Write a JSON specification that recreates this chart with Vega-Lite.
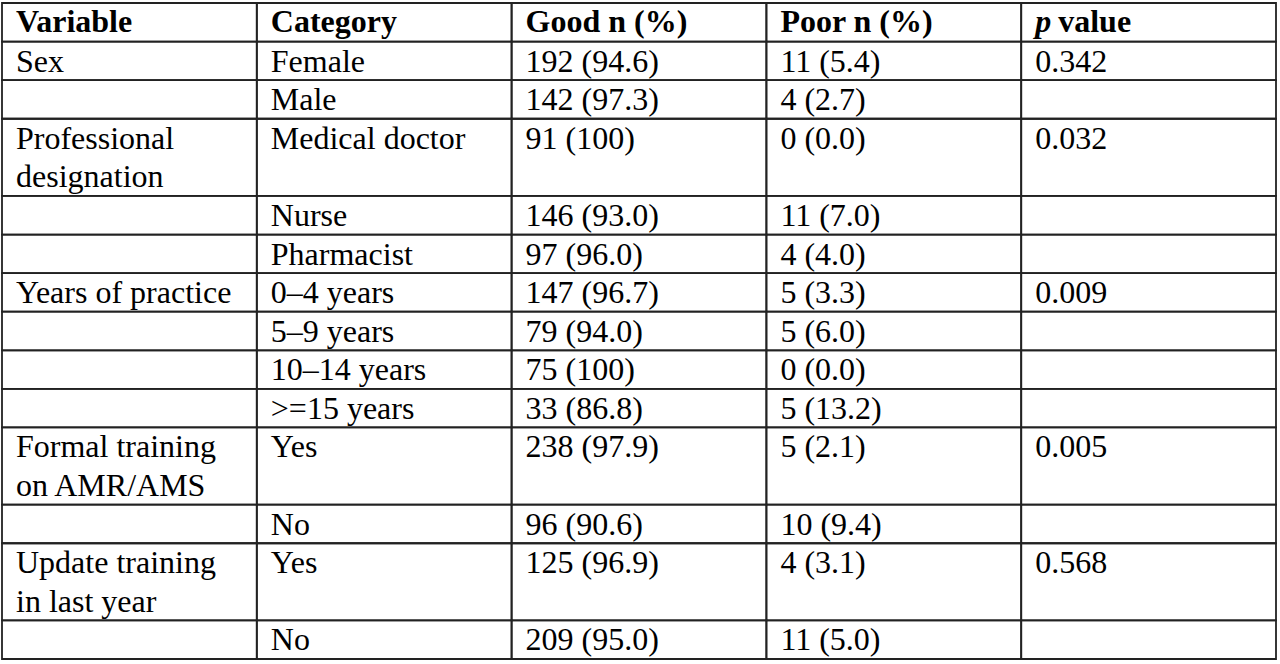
{
  "$schema": "https://vega.github.io/schema/vega-lite/v6.json",
  "width": 1274,
  "height": 656,
  "autosize": "none",
  "padding": {"left": 2, "top": 3, "right": 4, "bottom": 5},
  "background": "white",
  "config": {
    "view": {"stroke": null},
    "text": {"font": "Liberation Serif", "fontSize": 32, "color": "#000000"}
  },
  "datasets": {
    "header": [
      {"col": "Variable", "start": 0, "end": 1, "text": "Variable"},
      {"col": "Category", "start": 0, "end": 1, "text": "Category"},
      {"col": "Good", "start": 0, "end": 1, "text": "Good n (%)"},
      {"col": "Poor", "start": 0, "end": 1, "text": "Poor n (%)"},
      {"col": "P", "start": 0, "end": 1, "text": ""}
    ],
    "body": [
      {"col": "Variable", "start": 1, "end": 2, "text": "Sex"},
      {"col": "Category", "start": 1, "end": 2, "text": "Female"},
      {"col": "Good", "start": 1, "end": 2, "text": "192 (94.6)"},
      {"col": "Poor", "start": 1, "end": 2, "text": "11 (5.4)"},
      {"col": "P", "start": 1, "end": 2, "text": "0.342"},

      {"col": "Variable", "start": 2, "end": 3, "text": ""},
      {"col": "Category", "start": 2, "end": 3, "text": "Male"},
      {"col": "Good", "start": 2, "end": 3, "text": "142 (97.3)"},
      {"col": "Poor", "start": 2, "end": 3, "text": "4 (2.7)"},
      {"col": "P", "start": 2, "end": 3, "text": ""},

      {"col": "Variable", "start": 3, "end": 5, "text": "Professional\ndesignation"},
      {"col": "Category", "start": 3, "end": 5, "text": "Medical doctor"},
      {"col": "Good", "start": 3, "end": 5, "text": "91 (100)"},
      {"col": "Poor", "start": 3, "end": 5, "text": "0 (0.0)"},
      {"col": "P", "start": 3, "end": 5, "text": "0.032"},

      {"col": "Variable", "start": 5, "end": 6, "text": ""},
      {"col": "Category", "start": 5, "end": 6, "text": "Nurse"},
      {"col": "Good", "start": 5, "end": 6, "text": "146 (93.0)"},
      {"col": "Poor", "start": 5, "end": 6, "text": "11 (7.0)"},
      {"col": "P", "start": 5, "end": 6, "text": ""},

      {"col": "Variable", "start": 6, "end": 7, "text": ""},
      {"col": "Category", "start": 6, "end": 7, "text": "Pharmacist"},
      {"col": "Good", "start": 6, "end": 7, "text": "97 (96.0)"},
      {"col": "Poor", "start": 6, "end": 7, "text": "4 (4.0)"},
      {"col": "P", "start": 6, "end": 7, "text": ""},

      {"col": "Variable", "start": 7, "end": 8, "text": "Years of practice"},
      {"col": "Category", "start": 7, "end": 8, "text": "0–4 years"},
      {"col": "Good", "start": 7, "end": 8, "text": "147 (96.7)"},
      {"col": "Poor", "start": 7, "end": 8, "text": "5 (3.3)"},
      {"col": "P", "start": 7, "end": 8, "text": "0.009"},

      {"col": "Variable", "start": 8, "end": 9, "text": ""},
      {"col": "Category", "start": 8, "end": 9, "text": "5–9 years"},
      {"col": "Good", "start": 8, "end": 9, "text": "79 (94.0)"},
      {"col": "Poor", "start": 8, "end": 9, "text": "5 (6.0)"},
      {"col": "P", "start": 8, "end": 9, "text": ""},

      {"col": "Variable", "start": 9, "end": 10, "text": ""},
      {"col": "Category", "start": 9, "end": 10, "text": "10–14 years"},
      {"col": "Good", "start": 9, "end": 10, "text": "75 (100)"},
      {"col": "Poor", "start": 9, "end": 10, "text": "0 (0.0)"},
      {"col": "P", "start": 9, "end": 10, "text": ""},

      {"col": "Variable", "start": 10, "end": 11, "text": ""},
      {"col": "Category", "start": 10, "end": 11, "text": ">=15 years"},
      {"col": "Good", "start": 10, "end": 11, "text": "33 (86.8)"},
      {"col": "Poor", "start": 10, "end": 11, "text": "5 (13.2)"},
      {"col": "P", "start": 10, "end": 11, "text": ""},

      {"col": "Variable", "start": 11, "end": 13, "text": "Formal training\non AMR/AMS"},
      {"col": "Category", "start": 11, "end": 13, "text": "Yes"},
      {"col": "Good", "start": 11, "end": 13, "text": "238 (97.9)"},
      {"col": "Poor", "start": 11, "end": 13, "text": "5 (2.1)"},
      {"col": "P", "start": 11, "end": 13, "text": "0.005"},

      {"col": "Variable", "start": 13, "end": 14, "text": ""},
      {"col": "Category", "start": 13, "end": 14, "text": "No"},
      {"col": "Good", "start": 13, "end": 14, "text": "96 (90.6)"},
      {"col": "Poor", "start": 13, "end": 14, "text": "10 (9.4)"},
      {"col": "P", "start": 13, "end": 14, "text": ""},

      {"col": "Variable", "start": 14, "end": 16, "text": "Update training\nin last year"},
      {"col": "Category", "start": 14, "end": 16, "text": "Yes"},
      {"col": "Good", "start": 14, "end": 16, "text": "125 (96.9)"},
      {"col": "Poor", "start": 14, "end": 16, "text": "4 (3.1)"},
      {"col": "P", "start": 14, "end": 16, "text": "0.568"},

      {"col": "Variable", "start": 16, "end": 17, "text": ""},
      {"col": "Category", "start": 16, "end": 17, "text": "No"},
      {"col": "Good", "start": 16, "end": 17, "text": "209 (95.0)"},
      {"col": "Poor", "start": 16, "end": 17, "text": "11 (5.0)"},
      {"col": "P", "start": 16, "end": 17, "text": ""}
    ]
  },
  "encoding": {
    "x": {
      "field": "col",
      "type": "nominal",
      "sort": ["Variable", "Category", "Good", "Poor", "P"],
      "scale": {"paddingInner": 0, "paddingOuter": 0},
      "axis": null
    },
    "y": {
      "field": "start",
      "type": "quantitative",
      "scale": {"domain": [0, 17], "reverse": true, "nice": false, "zero": false},
      "axis": null
    }
  },
  "layer": [
    {
      "data": {"name": "header"},
      "mark": {"type": "rect", "fill": "transparent", "stroke": "#222222", "strokeWidth": 1.8},
      "encoding": {"y2": {"field": "end"}}
    },
    {
      "data": {"name": "body"},
      "mark": {"type": "rect", "fill": "transparent", "stroke": "#222222", "strokeWidth": 1.8},
      "encoding": {"y2": {"field": "end"}}
    },
    {
      "data": {"name": "header"},
      "mark": {"type": "text", "align": "left", "baseline": "alphabetic", "dx": 14, "dy": 29, "fontWeight": "bold"},
      "encoding": {
        "x": {"field": "col", "type": "nominal", "bandPosition": 0},
        "text": {"field": "text"}
      }
    },
    {
      "data": {"values": [{"col": "P", "start": 0, "text": "p"}]},
      "mark": {"type": "text", "align": "left", "baseline": "alphabetic", "dx": 14, "dy": 29, "fontWeight": "bold", "fontStyle": "italic"},
      "encoding": {
        "x": {"field": "col", "type": "nominal", "bandPosition": 0},
        "text": {"field": "text"}
      }
    },
    {
      "data": {"values": [{"col": "P", "start": 0, "text": "value"}]},
      "mark": {"type": "text", "align": "left", "baseline": "alphabetic", "dx": 37, "dy": 29, "fontWeight": "bold"},
      "encoding": {
        "x": {"field": "col", "type": "nominal", "bandPosition": 0},
        "text": {"field": "text"}
      }
    },
    {
      "data": {"name": "body"},
      "mark": {"type": "text", "align": "left", "baseline": "alphabetic", "dx": 14, "dy": 30, "lineBreak": "\n", "lineHeight": 38.6},
      "encoding": {
        "x": {"field": "col", "type": "nominal", "bandPosition": 0},
        "text": {"field": "text"}
      }
    }
  ]
}
